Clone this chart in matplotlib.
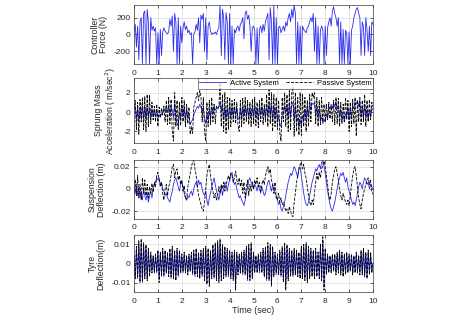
import numpy as np
import matplotlib
matplotlib.use("Agg")
import matplotlib.pyplot as plt

plt.rcParams['font.family'] = ['Liberation Sans', 'DejaVu Sans']

time_start, time_end = 0, 10

force = [50, 120, -150, 100, -300, 150, 200, -350, 250, 280,
         -350, 300, 150, -350, 200, 50, 100, 40, 80, -350,
         20, -350, 60, -250, 30, 80, 40, 20, 10, 30,
         180, 100, 220, -200, 250, 150, -350, 200, -350, 100,
         -100, 80, 150, 60, 100, 20, 50, 0, 20, -350,
         10, 30, 120, 50, 200, -100, 230, 180, 250, -200,
         200, -300, 100, 150, 40, 0, 20, 10, 30, 0,
         50, 80, 350, -250, 300, 200, -300, 260, 150, -350,
         250, -350, 100, -350, 60, 20, 80, 100, 40, 120,
         150, 200, -50, 250, 280, 180, 230, 100, -200, 80,
         100, 50, -350, 80, -350, 60, 100, 20, 120, 40,
         150, 200, 250, -300, 320, 150, -350, 350, -350, 200,
         -350, 80, 100, 20, 60, 100, 40, 150, 100, 200,
         250, 150, 300, 200, 350, 250, -350, 150, -350, 100,
         -350, 100, 60, 40, 20, 80, 100, 150, 200, 150,
         250, -200, 200, -350, 100, -350, 50, 100, 60, -350,
         100, -250, 80, 150, 200, 100, 280, 330, 250, 200,
         100, 200, -350, 150, -350, 60, -350, 50, 20, -350,
         30, -350, 50, 100, 200, 250, 300, 320, 250, 200,
         -250, 150, 100, -250, 200, 50, -200, 100, -250, 150,
         120]

accel_passive = [0.5, 1.2, -1.8, 1.0, -2.3, 1.3, -1.0, 1.5, -1.8, 1.6,
                 -2.0, 1.8, -1.5, 1.7, -1.2, 1.0, -0.8, 0.6, -1.0, 0.8,
                 -1.5, 0.5, -0.6, 0.4, -0.3, 0.6, -1.0, 1.2, -1.3, 1.5,
                 -1.2, 1.3, -2.0, -3.0, 2.0, -1.5, 1.2, -1.8, 1.0, -1.4,
                 1.5, -1.0, 1.2, -1.5, 0.8, -1.2, 0.5, -2.3, -1.5, -2.2,
                 0.5, 1.0, 1.5, 2.0, 1.2, 2.2, 1.6, -1.0, 1.5, -2.0,
                 -3.0, 1.0, -1.5, 1.2, -1.3, 1.5, -1.0, 0.8, -1.2, 0.6,
                 0.4, 0.6, 3.0, -1.5, 1.8, -2.0, 2.0, -2.2, 1.5, -1.8,
                 1.5, -1.5, 1.2, -1.0, 1.3, -1.2, 1.0, -1.4, -2.0, 1.2,
                 -1.5, 1.4, -1.2, 1.5, -1.0, 1.2, -1.3, 1.0, -1.5, 1.3,
                 -1.2, 1.5, -1.4, 1.0, -1.6, 1.2, -1.0, 1.5, -1.3, 0.8,
                 -1.0, 1.8, -1.5, 2.3, -1.2, 2.0, -2.0, 1.8, -1.5, 1.5,
                 -1.8, 1.2, -2.2, -3.0, 1.5, -1.0, 2.0, -1.5, 1.8, -2.0,
                 2.2, -1.8, 2.0, 2.6, -2.5, 2.0, -2.0, 1.5, -2.4, 2.0,
                 -2.4, 1.8, -1.5, 1.5, -2.0, 1.2, -1.5, 1.8, -1.0, 2.0,
                 1.5, 2.0, -1.2, 1.5, -1.5, 1.2, -1.3, 1.5, -1.0, 0.8,
                 -1.0, 0.8, -0.8, 1.0, -0.7, 0.6, -1.0, 1.2, -1.3, 1.5,
                 -1.2, 1.4, -1.5, 1.0, -1.2, 0.8, -1.0, 1.5, -0.8, 1.2,
                 -2.0, 1.0, -1.5, 1.3, -1.2, 1.5, -2.5, 1.2, -1.0, 1.5,
                 -1.3, 1.2, -1.0, 1.8, -1.5, 1.2, -1.0, 1.3, -0.8, 1.0,
                 0.5]

accel_active = [0.3, 0.6, -0.8, 0.5, -1.0, 0.4, -0.5, 0.6, -0.7, 0.5,
                -0.8, 0.6, -0.5, 0.4, -0.6, 0.3, -0.4, 0.2, -0.5, 0.3,
                -0.6, -0.3, -0.5, -0.2, 0.0, 0.3, 0.1, 0.5, 0.0, 0.6,
                -0.3, 0.5, 0.2, -0.6, 1.0, -0.5, -1.2, -1.4, 0.0, -0.6,
                0.6, -0.4, 0.5, -0.8, 0.2, -0.5, -0.3, -1.3, -1.0, -0.8,
                -0.3, 0.0, 0.3, 0.6, 0.4, 0.8, 0.5, 0.0, 0.4, -0.6,
                -1.2, -0.3, -0.8, 0.2, -0.6, 0.5, 0.0, 0.6, 0.2, 0.4,
                0.3, 0.5, 1.0, 0.2, 0.6, -0.7, 0.5, -0.8, 0.4, -0.6,
                0.6, -0.5, 0.5, -0.4, 0.5, -0.3, 0.4, -0.6, -0.8, 0.5,
                -0.6, 0.5, -0.4, 0.6, -0.3, 0.5, -0.5, 0.4, -0.6, 0.5,
                -0.4, 0.6, -0.5, 0.4, -0.7, 0.5, -0.3, 0.6, -0.4, 0.3,
                -0.5, 0.6, -0.4, 0.9, -0.3, 0.7, -0.8, 0.6, -0.6, 0.5,
                -0.8, -0.5, -1.2, -1.5, -0.3, -0.2, 0.6, 0.0, 0.7, -0.6,
                0.8, -0.5, 0.7, 1.0, -0.8, 0.6, -1.0, -0.6, -1.5, -0.8,
                -1.4, -0.4, -0.8, 0.3, -0.8, 0.5, -0.5, 0.8, 0.2, 0.9,
                0.8, 1.0, -0.2, 0.5, -0.6, 0.3, -0.8, -0.5, -1.2, -0.8,
                -1.0, -0.2, -0.6, 0.5, 0.3, 0.8, 0.4, 0.9, 0.6, 1.0,
                0.3, 0.7, -0.5, 0.2, -0.8, -0.3, -1.0, -0.2, -0.4, 0.5,
                -0.8, 0.3, -0.5, 0.6, 0.4, 1.0, 0.8, 1.2, 0.6, 1.0,
                -0.4, 0.5, -0.6, 0.8, -0.5, 0.3, -0.9, 0.2, -0.5, 0.4,
                0.2]

susp_passive = [0.0, 0.008, -0.006, 0.012, -0.008, 0.004, -0.01, 0.01, -0.004, 0.008,
                -0.006, 0.004, -0.008, 0.002, -0.004, 0.005, -0.003, 0.006, 0.002, 0.012,
                0.015, 0.008, 0.002, 0.006, -0.004, -0.01, 0.0, 0.004, -0.006, 0.002,
                0.006, 0.012, 0.02, 0.022, 0.01, 0.016, 0.018, 0.008, 0.012, 0.004,
                0.008, -0.002, 0.003, -0.008, -0.01, 0.002, 0.008, 0.014, 0.02, 0.024,
                0.026, 0.018, 0.012, 0.002, -0.006, -0.01, -0.014, -0.018, -0.02, -0.012,
                0.0, 0.012, 0.018, 0.022, 0.012, 0.004, -0.002, -0.008, -0.004, -0.01,
                -0.006, 0.002, -0.004, 0.004, 0.0, 0.006, -0.002, 0.004, 0.008, 0.012,
                0.008, 0.014, 0.012, 0.006, 0.01, 0.016, 0.008, 0.004, 0.01, 0.002,
                0.008, -0.004, 0.006, -0.008, 0.002, 0.008, -0.006, 0.004, -0.002, 0.006,
                0.0, 0.008, 0.004, 0.01, 0.002, 0.006, -0.002, 0.004, 0.008, 0.004,
                0.012, 0.016, 0.02, 0.014, 0.018, 0.008, 0.004, -0.004, 0.006, -0.008,
                -0.01, -0.004, -0.012, -0.008, -0.014, -0.012, -0.016, -0.02, -0.018, -0.022,
                -0.016, -0.02, -0.024, -0.025, -0.012, -0.004, 0.006, 0.012, 0.018, 0.022,
                0.024, 0.018, 0.022, 0.014, 0.01, 0.002, -0.006, -0.012, -0.015, -0.01,
                -0.014, -0.004, 0.006, 0.014, 0.008, 0.015, 0.01, 0.018, 0.022, 0.025,
                0.02, 0.012, 0.004, -0.006, -0.01, -0.004, 0.006, 0.012, 0.018, 0.02,
                0.014, 0.008, 0.0, -0.006, -0.01, -0.004, -0.008, -0.012, -0.014, -0.01,
                -0.015, -0.006, 0.004, 0.012, 0.018, 0.02, 0.012, 0.002, -0.008, -0.014,
                -0.018, -0.01, -0.004, 0.0, 0.004, 0.008, 0.01, 0.004, 0.008, -0.002,
                -0.005]

susp_active = [0.0, -0.004, 0.004, -0.006, 0.002, -0.008, -0.002, -0.01, 0.0, -0.006,
               -0.01, -0.004, -0.012, -0.006, -0.002, -0.008, 0.0, 0.004, 0.006, 0.01,
               0.008, 0.01, 0.004, 0.006, 0.0, -0.002, -0.006, -0.004, -0.008, -0.01,
               -0.012, -0.006, -0.002, 0.004, 0.008, 0.01, 0.006, 0.002, -0.002, 0.004,
               0.006, 0.002, -0.004, -0.008, -0.01, -0.006, -0.008, -0.004, -0.002, -0.006,
               0.0, 0.004, 0.006, 0.002, 0.008, 0.004, 0.006, 0.0, -0.004, -0.006,
               -0.002, -0.01, -0.015, -0.008, -0.004, 0.002, 0.006, 0.01, 0.004, -0.002,
               -0.006, -0.01, -0.004, 0.002, -0.006, 0.0, 0.006, 0.004, -0.002, 0.004,
               0.008, 0.012, 0.015, 0.008, 0.004, 0.006, 0.0, -0.004, -0.008, -0.006,
               -0.01, -0.012, -0.015, -0.01, -0.004, 0.002, 0.008, 0.01, 0.006, 0.004,
               0.0, 0.004, 0.002, -0.002, 0.004, 0.0, -0.004, 0.002, -0.002, -0.006,
               -0.004, 0.002, 0.006, 0.008, 0.002, -0.002, 0.004, 0.0, -0.004, -0.006,
               -0.01, -0.014, -0.012, -0.018, -0.02, -0.016, -0.012, -0.006, 0.0, 0.006,
               0.01, 0.014, 0.012, 0.016, 0.02, 0.018, 0.014, 0.01, 0.018, 0.02,
               0.012, 0.004, -0.004, -0.01, -0.014, -0.015, -0.012, -0.006, 0.0, 0.006,
               0.01, 0.014, 0.018, 0.016, 0.02, 0.022, 0.018, 0.024, 0.025, 0.02,
               0.014, 0.006, -0.002, -0.008, -0.014, -0.018, -0.02, -0.016, -0.012, -0.006,
               0.0, 0.006, 0.01, 0.014, 0.012, 0.015, 0.01, 0.006, 0.01, 0.002,
               -0.002, -0.006, -0.01, -0.014, -0.012, -0.015, -0.01, -0.004, 0.002, 0.006,
               0.004, 0.0, 0.006, 0.01, 0.008, 0.004, 0.006, 0.0, 0.004, 0.002,
               0.0]

tyre_passive = [0.004, -0.008, 0.009, -0.007, 0.012, -0.01, 0.013, -0.009, 0.011, -0.008,
                0.01, -0.009, 0.008, -0.007, 0.006, -0.005, 0.004, -0.005, 0.005, -0.004,
                0.007, -0.01, 0.006, -0.007, 0.008, -0.006, 0.007, -0.005, 0.006, -0.007,
                0.008, -0.007, 0.009, -0.008, 0.007, -0.009, 0.008, -0.006, 0.007, -0.005,
                0.005, -0.004, 0.006, -0.005, 0.004, -0.006, 0.005, -0.004, 0.006, -0.005,
                0.007, -0.006, 0.008, -0.007, 0.006, -0.008, 0.007, -0.006, 0.008, -0.009,
                0.009, -0.011, 0.008, -0.012, 0.007, -0.008, 0.01, -0.007, 0.011, -0.009,
                0.012, -0.01, 0.013, -0.009, 0.01, -0.008, 0.009, -0.007, 0.008, -0.006,
                0.007, -0.008, 0.006, -0.009, 0.007, -0.014, 0.006, -0.006, 0.005, -0.005,
                0.006, -0.005, 0.007, -0.006, 0.009, -0.008, 0.01, -0.009, 0.011, -0.008,
                0.006, -0.005, 0.004, -0.005, 0.005, -0.004, 0.006, -0.005, 0.008, -0.007,
                0.009, -0.008, 0.011, -0.009, 0.01, -0.012, 0.009, -0.007, 0.006, -0.005,
                0.005, -0.006, 0.007, -0.006, 0.009, -0.01, 0.011, -0.014, 0.01, -0.009,
                0.008, -0.007, 0.007, -0.006, 0.008, -0.006, 0.007, -0.007, 0.006, -0.008,
                0.009, -0.008, 0.01, -0.009, 0.011, -0.01, 0.009, -0.008, 0.008, -0.007,
                0.007, -0.008, 0.008, -0.007, 0.006, -0.008, 0.01, -0.009, 0.014, -0.014,
                0.008, -0.006, 0.005, -0.005, 0.004, -0.005, 0.005, -0.004, 0.005, -0.006,
                0.006, -0.005, 0.007, -0.006, 0.006, -0.007, 0.005, -0.006, 0.006, -0.005,
                0.005, -0.004, 0.005, -0.006, 0.004, -0.005, 0.006, -0.005, 0.004, -0.006,
                0.007, -0.006, 0.008, -0.007, 0.006, -0.008, 0.007, -0.006, 0.006, -0.005,
                0.0]

tyre_active = [0.003, -0.007, 0.008, -0.008, 0.01, -0.009, 0.011, -0.01, 0.01, -0.007,
               0.009, -0.008, 0.007, -0.006, 0.005, -0.004, 0.004, -0.004, 0.004, -0.005,
               0.006, -0.008, 0.005, -0.006, 0.007, -0.007, 0.006, -0.005, 0.005, -0.006,
               0.007, -0.008, 0.008, -0.007, 0.006, -0.008, 0.007, -0.007, 0.006, -0.005,
               0.004, -0.005, 0.005, -0.004, 0.004, -0.005, 0.004, -0.004, 0.005, -0.006,
               0.006, -0.007, 0.007, -0.006, 0.005, -0.007, 0.006, -0.007, 0.007, -0.008,
               0.008, -0.01, 0.007, -0.01, 0.006, -0.007, 0.009, -0.008, 0.01, -0.008,
               0.01, -0.009, 0.011, -0.008, 0.009, -0.007, 0.008, -0.006, 0.007, -0.007,
               0.006, -0.007, 0.005, -0.008, 0.006, -0.011, 0.005, -0.005, 0.004, -0.005,
               0.005, -0.006, 0.006, -0.005, 0.008, -0.009, 0.009, -0.008, 0.009, -0.007,
               0.005, -0.004, 0.004, -0.004, 0.004, -0.005, 0.005, -0.004, 0.007, -0.006,
               0.008, -0.009, 0.009, -0.008, 0.009, -0.01, 0.008, -0.006, 0.005, -0.006,
               0.004, -0.005, 0.006, -0.007, 0.008, -0.009, 0.009, -0.011, 0.009, -0.008,
               0.007, -0.006, 0.006, -0.007, 0.007, -0.005, 0.006, -0.006, 0.005, -0.007,
               0.008, -0.007, 0.009, -0.008, 0.01, -0.009, 0.008, -0.007, 0.007, -0.006,
               0.006, -0.007, 0.007, -0.006, 0.005, -0.007, 0.009, -0.008, 0.012, -0.012,
               0.007, -0.005, 0.004, -0.004, 0.004, -0.004, 0.004, -0.004, 0.004, -0.005,
               0.005, -0.004, 0.006, -0.005, 0.005, -0.006, 0.004, -0.005, 0.005, -0.004,
               0.004, -0.004, 0.004, -0.005, 0.004, -0.004, 0.005, -0.004, 0.004, -0.005,
               0.006, -0.005, 0.007, -0.006, 0.005, -0.007, 0.006, -0.005, 0.005, -0.004,
               0.0]

x_ticks = list(range(0, 11))
force_ticks = [-200, 0, 200]
accel_ticks = [-2, 0, 2]
susp_ticks = [-0.02, 0, 0.02]
tyre_ticks = [-0.01, 0, 0.01]

t = np.linspace(time_start, time_end, len(force))

BLUE = '#2b2bf0'
fig = plt.figure(figsize=(4.77, 3.15), dpi=100)
left, width = 0.281, 0.501
ax1 = fig.add_axes([left, 0.797, width, 0.187])
ax2 = fig.add_axes([left, 0.546, width, 0.206])
ax3 = fig.add_axes([left, 0.305, width, 0.187])
ax4 = fig.add_axes([left, 0.073, width, 0.181])

ax1.plot(t, force, color=BLUE, lw=0.6)
ax2.plot(t, accel_active, color=BLUE, lw=0.6, label='Active System')
ax2.plot(t, accel_passive, color='black', lw=0.6, ls='--', label='Passive System')
ax3.plot(t, susp_active, color=BLUE, lw=0.6)
ax3.plot(t, susp_passive, color='black', lw=0.6, ls='--')
ax4.plot(t, tyre_active, color=BLUE, lw=0.6)
ax4.plot(t, tyre_passive, color='black', lw=0.6, ls='--')

cfg = [
    (ax1, (-350, 350), force_ticks, ['-200', '0', '200'], 'Controller\nForce (N)'),
    (ax2, (-3.2, 3.5), accel_ticks, ['-2', '0', '2'], 'Sprung Mass\nAcceleration ( m/sec$^2$)'),
    (ax3, (-0.027, 0.026), susp_ticks, ['-0.02', '0', '0.02'], 'Suspension\nDeflection (m)'),
    (ax4, (-0.015, 0.015), tyre_ticks, ['-0.01', '0', '0.01'], 'Tyre\nDeflection(m)'),
]
for ax, yl, yt, ytl, lab in cfg:
    ax.set_xlim(time_start, time_end)
    ax.set_ylim(*yl)
    ax.set_xticks(x_ticks)
    ax.set_xticklabels([str(v) for v in x_ticks])
    ax.set_yticks(yt)
    ax.set_yticklabels(ytl)
    ax.tick_params(direction='in', labelsize=6, length=2, width=0.5,
                   colors='#262626', pad=2.5, top=True, right=True)
    ax.tick_params(axis='x', pad=4)
    ax.grid(True, color='#d9d9d9', lw=0.5)
    ax.set_axisbelow(True)
    for s in ax.spines.values():
        s.set_color('#3a3a3a')
        s.set_linewidth(0.5)
    ax.set_ylabel(lab, fontsize=6.3, color='#262626', labelpad=4, linespacing=1.0)

ax4.set_xlabel('Time (sec)', fontsize=6.5, color='#262626', labelpad=1)

leg = ax2.legend(loc='upper right', ncol=2, fontsize=5.5, frameon=True,
                 borderaxespad=0.0, handlelength=3.5, columnspacing=1.0,
                 borderpad=0.2, handletextpad=0.5, fancybox=False)
leg.get_frame().set_edgecolor('#262626')
leg.get_frame().set_linewidth(0.5)

fig.savefig('out.png', dpi=100)
